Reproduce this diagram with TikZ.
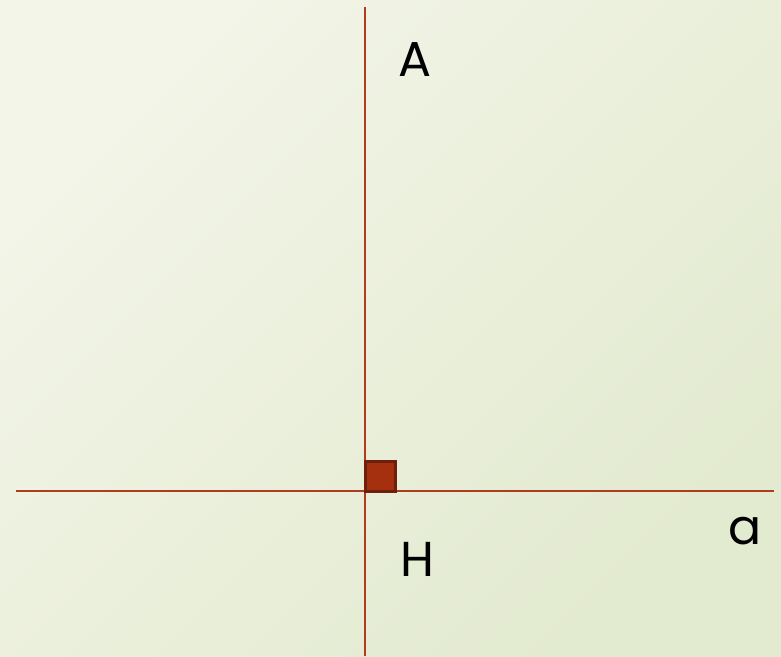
\documentclass[tikz,border=0pt]{standalone}
\usepackage{fontspec}
\setmainfont{Poppins}
\definecolor{bgtop}{HTML}{F3F5E8}
\definecolor{bgbot}{HTML}{E2EACF}
\definecolor{linered}{HTML}{B13B1E}
\definecolor{boxfill}{HTML}{A5300F}
\definecolor{boxedge}{HTML}{6E200C}
\tikzset{
  lbl/.style={font=\fontsize{49}{52}\selectfont, text=black, inner sep=0pt},
  axisline/.style={draw=linered, line width=1.4pt}
}
\begin{document}
\begin{tikzpicture}[x=1pt,y=-1pt]
      \useasboundingbox (0,0) rectangle (781,656);
      \shade[top color=bgtop, bottom color=bgbot, shading angle=45] (0,0) rectangle (781,656);
      \draw
        (365,7) coordinate (top)
        (365,656) coordinate (bot)
        (16,491) coordinate (left)
        (774,491) coordinate (right)
        (365,491) coordinate (H0);
      \node[lbl] (A) at (415,60) {A};
      \node[lbl] (H) at (417,559) {H};
      \node[lbl] (a) at (745,531) {a};
      \begin{scope}[axisline]
        \draw (top) to (bot);
        \draw (left) to (right);
      \end{scope}
      \filldraw[fill=boxfill, draw=boxedge, line width=3pt] (H0) rectangle ++(30,-30);
    \end{tikzpicture}
\end{document}
